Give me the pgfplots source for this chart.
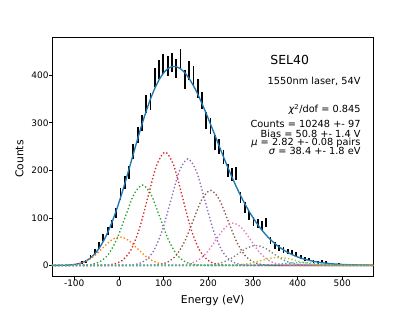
\documentclass[border=0pt]{standalone}
\usepackage{fontspec}
\setmainfont{DejaVu Sans}
\usepackage{pgfplots}
\pgfplotsset{compat=1.18}
\usepackage{pgfplotstable}
\definecolor{tabblue}{HTML}{1F77B4}
\definecolor{taborange}{HTML}{FF7F0E}
\definecolor{tabgreen}{HTML}{2CA02C}
\definecolor{tabred}{HTML}{D62728}
\definecolor{tabpurple}{HTML}{9467BD}
\definecolor{tabbrown}{HTML}{8C564B}
\definecolor{tabpink}{HTML}{E377C2}
\definecolor{tabgray}{HTML}{7F7F7F}
\definecolor{tabolive}{HTML}{BCBD22}
\definecolor{tabcyan}{HTML}{17BECF}

\pgfplotstableread{
x y e
-102 2 1.41
-92.4 4 2
-82.8 6 2.45
-73.2 8 2.83
-63.6 17 4.12
-54 30 5.48
-44.4 42 6.48
-34.8 58 7.62
-25.2 72 8.49
-15.6 87 9.33
-6 110 10.49
3.6 150 12.25
13.2 175 13.23
22.8 195 13.96
32.4 240 15.49
42 275 16.58
51.6 300 17.32
61.2 340 18.44
70.8 345 18.57
80.4 395 19.87
90 412 20.30
99.6 424 20.59
109.2 420 20.49
118.8 427 20.66
128.4 415 20.37
138 435 20.86
147.6 392 19.80
157.2 410 20.25
166.8 400 20.00
176.4 372 19.29
186 347 18.63
195.6 305 17.46
205.2 293 17.12
214.8 258 16.06
224.4 250 15.81
234 228 15.10
243.6 200 14.14
253.2 192 13.86
262.8 194 13.93
272.4 143 11.96
282 122 11.05
291.6 105 10.25
301.2 93 9.64
310.8 88 9.38
320.4 84 9.17
330 90 9.49
339.6 52 7.21
349.2 42 6.48
358.8 36 6.00
368.4 32 5.66
378 29 5.39
387.6 27 5.20
397.2 24 4.90
406.8 17 4.12
416.4 14 3.74
426 12 3.46
435.6 9 3.00
445.2 6 2.45
454.8 8 2.83
464.4 7 2.65
474 4 2.00
483.6 2 1.41
493.2 3 1.73
502.8 1 1.00
522 2 1.41
531.6 2 1.41
}\datatable

\pgfplotstableread{
x f
-150 0.02
-140.4 0.06
-130.8 0.15
-121.2 0.36
-111.6 0.77
-102 1.58
-92.4 3.05
-82.8 5.57
-73.2 9.60
-63.6 15.67
-54 24.30
-44.4 35.92
-34.8 50.80
-25.2 69.04
-15.6 90.56
-6 115.16
3.6 142.49
13.2 172.04
22.8 203.14
32.4 234.88
42 266.37
51.6 296.65
61.2 324.91
70.8 350.38
80.4 372.49
90 390.68
99.6 404.50
109.2 413.68
118.8 418.18
128.4 418.07
138 413.69
147.6 405.32
157.2 393.32
166.8 378.18
176.4 360.43
186 340.62
195.6 319.36
205.2 297.06
214.8 274.30
224.4 251.36
234 228.80
243.6 206.82
253.2 185.73
262.8 165.75
272.4 147.02
282 129.60
291.6 113.59
301.2 99.00
310.8 85.78
320.4 73.96
330 63.41
339.6 54.11
349.2 45.93
358.8 38.79
368.4 32.61
378 27.27
387.6 22.72
397.2 18.82
406.8 15.54
416.4 12.76
426 10.47
435.6 8.54
445.2 6.95
454.8 5.64
464.4 4.53
474 3.64
483.6 2.94
493.2 2.34
502.8 1.85
512.4 1.47
522 1.15
531.6 0.90
541.2 0.69
550.8 0.54
560.4 0.41
570 0.32
}\fittable

\begin{document}
\begin{tikzpicture}
\path[use as bounding box] (0,0) rectangle (415bp,311bp);
\begin{axis}[
  at={(51.9bp,34.2bp)}, anchor=south west,
  width=321.6bp, height=239.5bp, scale only axis,
  xmin=-150, xmax=570, ymin=-24, ymax=480,
  xtick={-100,0,100,200,300,400,500},
  ytick={0,100,200,300,400},
  tick pos=left, tick align=outside,
  major tick length=3.15bp,
  tick style={black, line width=0.72bp},
  axis line style={line width=0.72bp},
  ticklabel style={font=\fontsize{9}{10}\selectfont, inner sep=0pt},
  /pgf/number format/assume math mode=true,
  scaled ticks=false,
  comp/.style={line width=1.35bp, dash pattern=on 1.35bp off 2.2bp},
]
\addplot[draw=none, mark=none, error bars/.cd, y dir=both, y explicit,
  error mark=none, error bar style={draw=black, line width=1.8bp, solid}]
  table[x=x, y=y, y error=e] {\datatable};
\addplot[tabblue, line width=1.35bp, smooth] table[x=x, y=f] {\fittable};
\addplot[comp, taborange, smooth] coordinates {(-151.6,0.02) (-132.4,0.13) (-113.2,0.67) (-94,2.63) (-74.8,8.12) (-55.6,19.48) (-36.4,36.39) (-17.2,52.95) (2,60) (21.2,52.95) (40.4,36.39) (59.6,19.48) (78.8,8.12) (98,2.63) (117.2,0.67) (136.4,0.13) (155.6,0.02) (205,0) (300,0) (400,0) (500,0) (580,0)};
\addplot[comp, tabgreen, smooth] coordinates {(-160,0) (-100.8,0.06) (-81.6,0.37) (-62.4,1.88) (-43.2,7.42) (-24,22.88) (-4.8,54.91) (14.4,102.56) (33.6,149.23) (52.8,169.1) (72,149.23) (91.2,102.56) (110.4,54.91) (129.6,22.88) (148.8,7.42) (168,1.88) (187.2,0.37) (206.4,0.06) (255,0) (350,0) (450,0) (580,0)};
\addplot[comp, tabred, smooth] coordinates {(-160,0) (-100,0) (-50,0.08) (-30.8,0.52) (-11.6,2.65) (7.6,10.47) (26.8,32.26) (46,77.41) (65.2,144.59) (84.4,210.39) (103.6,238.4) (122.8,210.39) (142,144.59) (161.2,77.41) (180.4,32.26) (199.6,10.47) (218.8,2.65) (238,0.52) (257.2,0.08) (305,0) (400,0) (500,0) (580,0)};
\addplot[comp, tabpurple, smooth] coordinates {(-160,0) (-100,0) (-50,0) (0.8,0.08) (20,0.49) (39.2,2.49) (58.4,9.84) (77.6,30.32) (96.8,72.76) (116,135.92) (135.2,197.77) (154.4,224.1) (173.6,197.77) (192.8,135.92) (212,72.76) (231.2,30.32) (250.4,9.84) (269.6,2.49) (288.8,0.49) (308,0.08) (355,0) (450,0) (580,0)};
\addplot[comp, tabbrown, smooth] coordinates {(-160,0) (-60,0) (0,0) (51.6,0.05) (70.8,0.35) (90,1.75) (109.2,6.94) (128.4,21.38) (147.6,51.30) (166.8,95.83) (186,139.44) (205.2,158) (224.4,139.44) (243.6,95.83) (262.8,51.30) (282,21.38) (301.2,6.94) (320.4,1.75) (339.6,0.35) (358.8,0.05) (405,0) (500,0) (580,0)};
\addplot[comp, tabpink, smooth] coordinates {(-160,0) (-60,0) (40,0) (102.4,0.03) (121.6,0.20) (140.8,0.99) (160,3.91) (179.2,12.06) (198.4,28.93) (217.6,54.04) (236.8,78.63) (256,89.1) (275.2,78.63) (294.4,54.04) (313.6,28.93) (332.8,12.06) (352,3.91) (371.2,0.99) (390.4,0.20) (409.6,0.03) (460,0) (580,0)};
\addplot[comp, tabgray, smooth] coordinates {(-160,0) (-60,0) (40,0) (100,0) (153.2,0.01) (172.4,0.09) (191.6,0.47) (210.8,1.84) (230,5.67) (249.2,13.60) (268.4,25.41) (287.6,36.98) (306.8,41.9) (326,36.98) (345.2,25.41) (364.4,13.60) (383.6,5.67) (402.8,1.84) (422,0.47) (441.2,0.09) (460.4,0.01) (510,0) (580,0)};
\addplot[comp, tabolive, smooth] coordinates {(-160,0) (-60,0) (40,0) (140,0) (204,0) (223.2,0.04) (242.4,0.19) (261.6,0.74) (280.8,2.29) (300,5.49) (319.2,10.25) (338.4,14.91) (357.6,16.9) (376.8,14.91) (396,10.25) (415.2,5.49) (434.4,2.29) (453.6,0.74) (472.8,0.19) (492,0.04) (511.2,0) (560,0) (580,0)};
\addplot[comp, tabcyan, smooth] coordinates {(-160,0) (-60,0) (40,0) (140,0) (200,0) (254.8,0) (274,0.01) (293.2,0.07) (312.4,0.26) (331.6,0.80) (350.8,1.92) (370,3.58) (389.2,5.21) (408.4,5.9) (427.6,5.21) (446.8,3.58) (466,1.92) (485.2,0.80) (504.4,0.26) (523.6,0.07) (542.8,0.01) (562,0) (580,0)};
\end{axis}
\node[anchor=base, inner sep=0pt, font=\fontsize{10.8}{13}\selectfont] at (212.7bp,7.5bp) {Energy (eV)};
\node[anchor=base, rotate=90, inner sep=0pt, font=\fontsize{10.8}{13}\selectfont] at (23.3bp,152bp) {Counts};
\node[anchor=base, inner sep=0pt, font=\fontsize{12.5}{14}\selectfont] at (289.7bp,246.9bp) {SEL40};
\begin{scope}[every node/.style={anchor=base east, inner sep=0pt, font=\fontsize{9.8}{11}\selectfont}]
\node at (360.7bp,226.5bp) {1550nm laser, 54V};
\node at (360.7bp,198bp) {{\itshape χ}\textsuperscript{2}/dof = 0.845};
\node at (360.7bp,183.7bp) {Counts = 10248 +- 97};
\node at (360.7bp,173.7bp) {Bias = 50.8 +- 1.4 V};
\node at (360.7bp,165.5bp) {{\itshape μ} = 2.82 +- 0.08 pairs};
\node at (360.7bp,156bp) {{\itshape σ} = 38.4 +- 1.8 eV};
\end{scope}
\end{tikzpicture}
\end{document}
